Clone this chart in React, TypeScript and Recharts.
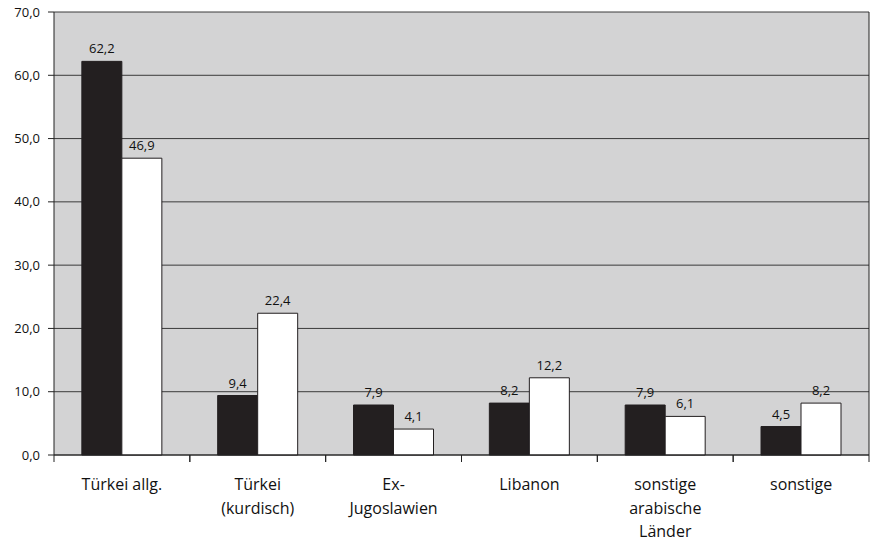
import { Bar, BarChart, CartesianGrid, LabelList, XAxis, YAxis } from 'recharts';

const categories = ['Türkei allg.', 'Türkei\n(kurdisch)', 'Ex-\nJugoslawien', 'Libanon', 'sonstige\narabische\nLänder', 'sonstige'];
const seriesDark = [62.2, 9.4, 7.9, 8.2, 7.9, 4.5];
const seriesLight = [46.9, 22.4, 4.1, 12.2, 6.1, 8.2];
const yTicks = [0, 10, 20, 30, 40, 50, 60, 70];

const data = categories.map((name, i) => ({ name, dark: seriesDark[i], light: seriesLight[i] }));

const fmt = (v: number) => v.toFixed(1).replace('.', ',');

const W = 872;
const H = 545;
const LEFT = 54;
const RIGHT = 3;
const BAND = (W - LEFT - RIGHT) / categories.length;

const CategoryTick = (props: any) => {
  const { x, y, payload } = props;
  const lines = String(payload.value).split('\n');
  return (
    <g>
      <line x1={x - BAND / 2} y1={y - 8} x2={x - BAND / 2} y2={y - 1} stroke="#222" />
      <line x1={x + BAND / 2} y1={y - 8} x2={x + BAND / 2} y2={y - 1} stroke="#222" />
      <text x={x} y={y + 27} textAnchor="middle" fontSize={16} fill="#111">
        {lines.map((l, i) => (
          <tspan key={i} x={x} dy={i === 0 ? 0 : 23.5}>
            {l}
          </tspan>
        ))}
      </text>
    </g>
  );
};

export default function App() {
  return (
    <div style={{ position: 'absolute', left: 0, top: 0, fontFamily: '"Open Sans", sans-serif' }}>
      <BarChart
        width={W}
        height={H}
        data={data}
        margin={{ top: 12, right: 0, bottom: 0, left: 0 }}
        barCategoryGap="20.5%"
        barGap={0}
      >
        <CartesianGrid vertical={false} stroke="#3a3a3a" strokeWidth={1} fill="#d3d3d4" fillOpacity={1} />
        <XAxis
          dataKey="name"
          interval={0}
          axisLine={{ stroke: '#222' }}
          tickLine={false}
          tick={<CategoryTick />}
          height={90}
        />
        <YAxis
          domain={[0, 70]}
          ticks={yTicks}
          tickFormatter={fmt}
          width={LEFT}
          axisLine={{ stroke: '#222' }}
          tickLine={{ stroke: '#222' }}
          tickSize={6}
          tickMargin={8}
          tick={{ fontSize: 13, fill: '#111' }}
        />
        <YAxis yAxisId="r" orientation="right" width={RIGHT} tick={false} tickLine={false} axisLine={{ stroke: '#222' }} />
        <Bar dataKey="dark" fill="#231f20" stroke="#231f20" isAnimationActive={false}>
          <LabelList dataKey="dark" position="top" offset={8} formatter={(v: any) => fmt(Number(v))} fontSize={13} fill="#111" />
        </Bar>
        <Bar dataKey="light" fill="#ffffff" stroke="#231f20" isAnimationActive={false}>
          <LabelList dataKey="light" position="top" offset={8} formatter={(v: any) => fmt(Number(v))} fontSize={13} fill="#111" />
        </Bar>
      </BarChart>
    </div>
  );
}
